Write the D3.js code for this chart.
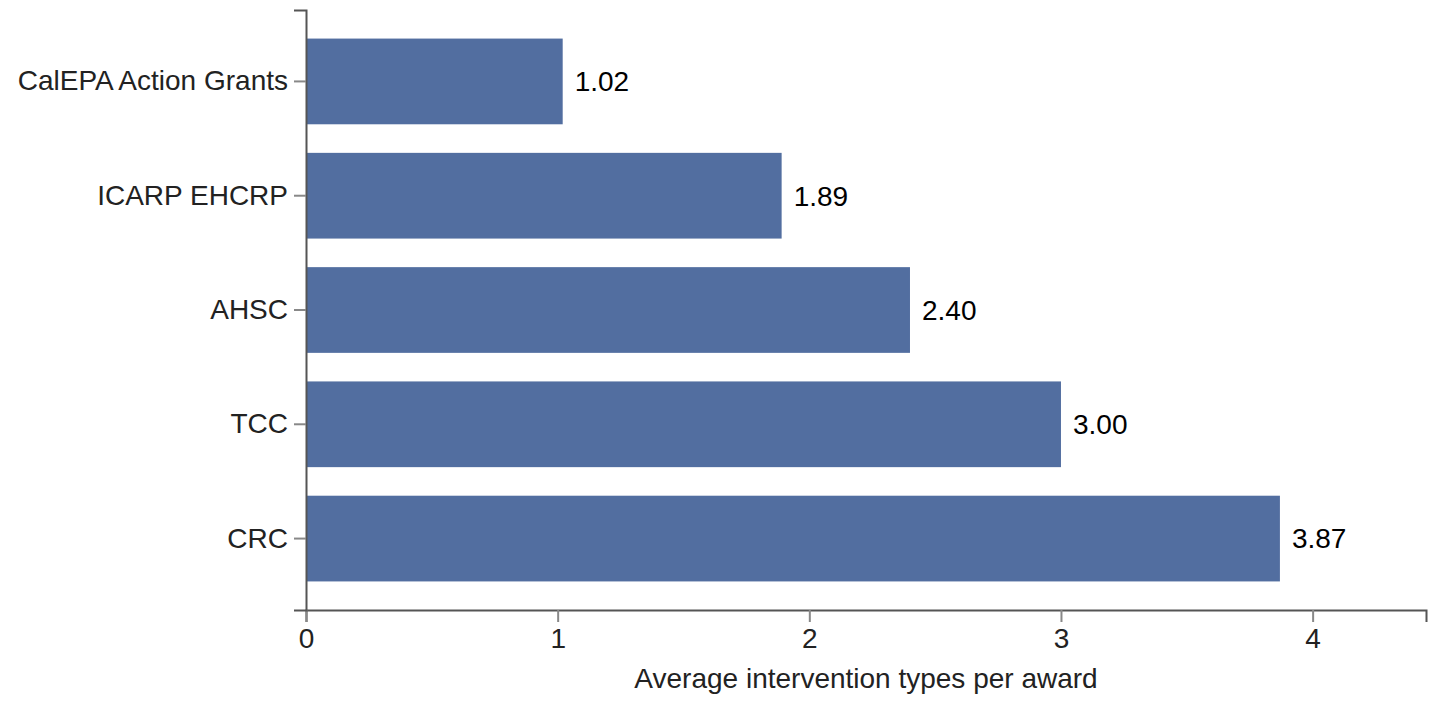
<!DOCTYPE html>
<html>
<head>
<meta charset="utf-8">
<script src="https://cdn.jsdelivr.net/npm/d3@7"></script>
<style>
  body { margin: 0; background: #fff; }
  svg { display: block; }
  text { font-family: "Liberation Sans", Arial, Helvetica, sans-serif; }
</style>
</head>
<body>
<div id="chart"></div>
<script>

var programs = ["CalEPA Action Grants", "ICARP EHCRP", "AHSC", "TCC", "CRC"];
var avgTypes = [1.02, 1.89, 2.40, 3.00, 3.87];
var xTicks = [0, 1, 2, 3, 4];
var xTitle = "Average intervention types per award";

var width = 1446,
  height = 718,
  margin = {top: 10, right: 20, bottom: 108, left: 306};

var data = programs.map(function (p, i) { return {name: p, value: avgTypes[i]}; });

var svg = d3.select("#chart").append("svg")
  .attr("width", width)
  .attr("height", height);

var x = d3.scaleLinear()
  .domain([0, d3.max(avgTypes) * 1.15])
  .range([margin.left, width - margin.right]);

var y = d3.scaleBand()
  .domain(programs)
  .range([margin.top, height - margin.bottom])
  .padding(0.25);

// bars
svg.append("g")
  .selectAll("rect")
  .data(data)
  .enter()
  .append("rect")
  .attr("x", x(0))
  .attr("y", function (d) { return y(d.name); })
  .attr("width", function (d) { return x(d.value) - x(0); })
  .attr("height", y.bandwidth())
  .attr("fill", "#526ea0");

// value labels
svg.append("g")
  .selectAll("text")
  .data(data)
  .enter()
  .append("text")
  .attr("x", function (d) { return x(d.value) + 12; })
  .attr("y", function (d) { return y(d.name) + y.bandwidth() / 2; })
  .attr("dy", "0.35em")
  .attr("font-size", "28px")
  .attr("fill", "#000")
  .text(function (d) { return d.value.toFixed(2); });

// axes
var xAxis = svg.append("g")
  .attr("transform", "translate(0," + (height - margin.bottom) + ")")
  .call(d3.axisBottom(x).tickValues(xTicks).tickFormat(d3.format("d")).tickSize(12).tickPadding(6));

var yAxis = svg.append("g")
  .attr("transform", "translate(" + margin.left + ",0)")
  .call(d3.axisLeft(y).tickSize(12).tickPadding(6));

[xAxis, yAxis].forEach(function (a) {
  a.select(".domain").attr("stroke", "#555").attr("stroke-width", 2);
  a.selectAll(".tick line").attr("stroke", "#888").attr("stroke-width", 2);
  a.selectAll(".tick text")
    .attr("font-size", "28px")
    .attr("font-family", "\"Liberation Sans\", Arial, Helvetica, sans-serif")
    .attr("fill", "#222");
});

svg.append("text")
  .attr("x", (x.range()[0] + x.range()[1]) / 2)
  .attr("y", 688)
  .attr("text-anchor", "middle")
  .attr("font-size", "28px")
  .attr("fill", "#222")
  .text(xTitle);

</script>
</body>
</html>
